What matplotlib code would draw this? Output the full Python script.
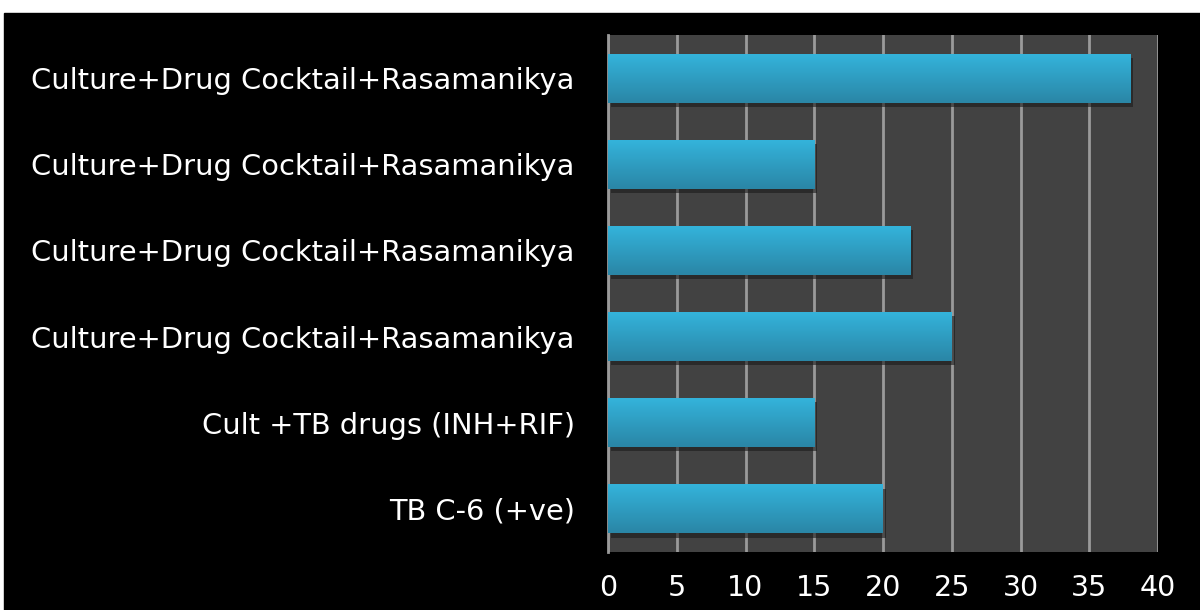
import matplotlib.pyplot as plt
import matplotlib.patheffects as pe
from matplotlib.colors import LinearSegmentedColormap
import numpy as np

plt.rcParams['font.family'] = ['DejaVu Sans']

# data, top to bottom as in the picture
labels = [
    "Culture+Drug Cocktail+Rasamanikya",
    "Culture+Drug Cocktail+Rasamanikya",
    "Culture+Drug Cocktail+Rasamanikya",
    "Culture+Drug Cocktail+Rasamanikya",
    "Cult +TB drugs (INH+RIF)",
    "TB C-6 (+ve)",
]
values = [38, 15, 22, 25, 15, 20]
xticks = [0, 5, 10, 15, 20, 25, 30, 35, 40]

fig = plt.figure(figsize=(12, 6.1), dpi=100, facecolor="white")
# black slide background, leaves a thin white margin top/left
fig.patches.append(plt.Rectangle((4 / 1200, 0), 1, 1 - 13 / 610,
                                 transform=fig.transFigure, color="black", zorder=-10))

ax = fig.add_axes([608 / 1200, 1 - 552 / 610, 550 / 1200, 517 / 610])
ax.set_facecolor("#424242")

ypos = np.arange(len(labels))[::-1]
bars = ax.barh(ypos, values, height=0.57, color="#2fa6cc", zorder=3,
               path_effects=[pe.SimplePatchShadow(offset=(2, -3), shadow_rgbFace="#1a1a1a", alpha=0.6),
                             pe.Normal()])

# vertical gradient on each bar
grad_cmap = LinearSegmentedColormap.from_list("bar", ["#2a86a6", "#34b4dc"])
grad = np.linspace(0, 1, 100).reshape(-1, 1)
for b in bars:
    x0, y0 = b.get_x(), b.get_y()
    im = ax.imshow(grad, cmap=grad_cmap, aspect="auto", origin="lower",
                   extent=(x0, x0 + b.get_width(), y0, y0 + b.get_height()), zorder=4)
    im.set_clip_path(b)

ax.set_xlim(0, 40)
ax.set_ylim(-0.5, len(labels) - 0.5)
ax.set_xticks(xticks)
ax.set_yticks(ypos)
ax.set_yticklabels(labels)
ax.grid(axis="x", color="#9a9a9a", linewidth=2, zorder=1)
ax.set_axisbelow(True)
for s in ["top", "right", "bottom"]:
    ax.spines[s].set_visible(False)
ax.spines["left"].set_color("#9a9a9a")
ax.spines["left"].set_linewidth(2)

ax.tick_params(axis="y", length=0, pad=24, labelsize=20.8, labelcolor="white")
ax.tick_params(axis="x", length=0, pad=16, labelsize=20.5, labelcolor="white")

fig.savefig("out.png", dpi=100, facecolor=fig.get_facecolor())
